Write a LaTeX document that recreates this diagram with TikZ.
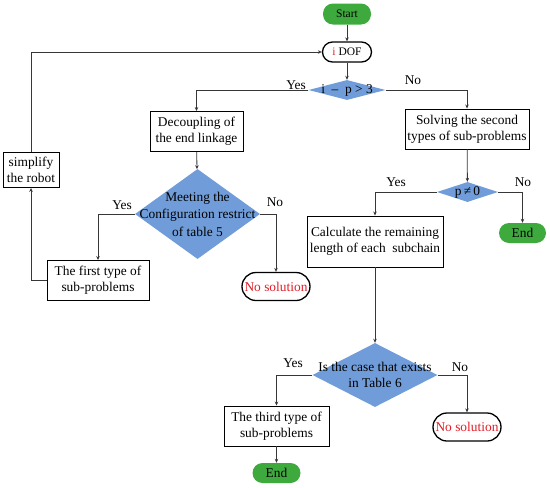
\documentclass[tikz,border=0pt]{standalone}
\usepackage{fontspec}
\setmainfont{Liberation Serif}
\usetikzlibrary{shapes.geometric,arrows.meta}
\definecolor{flowgreen}{RGB}{62,170,62}
\definecolor{flowblue}{RGB}{112,157,217}
\definecolor{flowred}{RGB}{225,30,40}
\definecolor{linegray}{RGB}{55,55,55}
\tikzset{
  every node/.style={font=\fontsize{13.4}{16}\selectfont},
  procbox/.style={draw=black, line width=0.9pt, rectangle, inner sep=0pt, align=center},
  pillg/.style={rectangle, rounded corners=10pt, fill=flowgreen, inner sep=0pt},
  pillw/.style={rectangle, draw=black, line width=1.3pt, fill=white, inner sep=0pt},
  dia/.style={diamond, fill=flowblue, inner sep=0pt},
  lbl/.style={align=center, inner sep=0pt},
  arr/.style={draw=linegray, line width=0.8pt, -{Stealth[length=4pt,width=3.5pt]}},
  yn/.style={inner sep=0pt}
}
\begin{document}
\begin{tikzpicture}[x=1pt,y=-1pt]
\useasboundingbox (0,0) rectangle (550,488);
% nodes
\node[pillg, minimum width=48pt, minimum height=21pt, font=\fontsize{11.5}{13}\selectfont] (start) at (347,14) {Start};
\node[pillw, rounded corners=10pt, minimum width=49pt, minimum height=20pt, font=\fontsize{11.5}{13}\selectfont] (idof) at (347,52) {\textcolor{flowred}{i} DOF};
\node[dia, minimum width=77pt, minimum height=20pt, label={[lbl]center:{i \ – \ p > 3}}] (d1) at (347,90) {};
\node[procbox, minimum width=93pt, minimum height=40pt] (dec) at (196.5,131.5) {Decoupling of\\the end linkage};
\node[procbox, minimum width=124pt, minimum height=40pt] (solve) at (467,129) {Solving the second\\types of sub-problems};
\node[dia, minimum width=125pt, minimum height=90pt, label={[lbl, font=\fontsize{13.4}{17.5}\selectfont]center:{Meeting the\\Configuration restrict\\of table 5}}] (d2) at (197.5,214) {};
\node[procbox, minimum width=56pt, minimum height=35pt] (simp) at (31,170) {simplify\\the robot};
\node[procbox, minimum width=102pt, minimum height=40pt] (first) at (98,280.5) {The first type of\\sub-problems};
\node[pillw, rounded corners=14pt, minimum width=68pt, minimum height=28pt, text=flowred] (ns1) at (276,286.5) {No solution};
\node[dia, minimum width=61pt, minimum height=20pt, label={[lbl]center:{p\,≠\,0}}] (d3) at (467.5,192) {};
\node[pillg, minimum width=47pt, minimum height=20pt] (end1) at (522.5,233) {End};
\node[procbox, minimum width=136pt, minimum height=51pt] (calc) at (375,241.5) {Calculate the remaining\\length of each \ subchain};
\node[dia, minimum width=125pt, minimum height=64pt, label={[lbl]center:{Is the case that exists\\in Table 6}}] (d4) at (375,375) {};
\node[procbox, minimum width=105pt, minimum height=40pt] (third) at (276.5,426) {The third type of\\sub-problems};
\node[pillw, rounded corners=14pt, minimum width=68pt, minimum height=28pt, text=flowred] (ns2) at (467,427) {No solution};
\node[pillg, minimum width=48pt, minimum height=20pt] (end2) at (276.5,473) {End};
% yes/no labels
\node[yn] (y1) at (296,85) {Yes};
\node[yn] (n1) at (413,80) {No};
\node[yn] (y2) at (122,205) {Yes};
\node[yn] (n2) at (275,202) {No};
\node[yn] (y3) at (396,182) {Yes};
\node[yn] (n3) at (523,182) {No};
\node[yn] (y4) at (293,363) {Yes};
\node[yn] (n4) at (460,367) {No};
% connectors
\draw[arr] (start) -- (idof);
\draw[arr] (idof) -- (d1);
\draw[arr] (d1.west) -| (dec.north);
\draw[arr] (d1.east) -| (solve.north);
\draw[arr] (dec) -- (d2);
\draw[arr] (d2.west) -| (first.north);
\draw[arr] (d2.east) -| (ns1.north);
\draw[arr] (first.west) -| (simp.south);
\draw[arr] (simp.north) |- (idof.west);
\draw[arr] (solve) -- (d3);
\draw[arr] (d3.west) -| (calc.north);
\draw[arr] (d3.east) -| (end1.north);
\draw[arr] (calc) -- (d4);
\draw[arr] (d4.west) -| (third.north);
\draw[arr] (d4.east) -| (ns2.north);
\draw[arr] (third) -- (end2);
\end{tikzpicture}
\end{document}
